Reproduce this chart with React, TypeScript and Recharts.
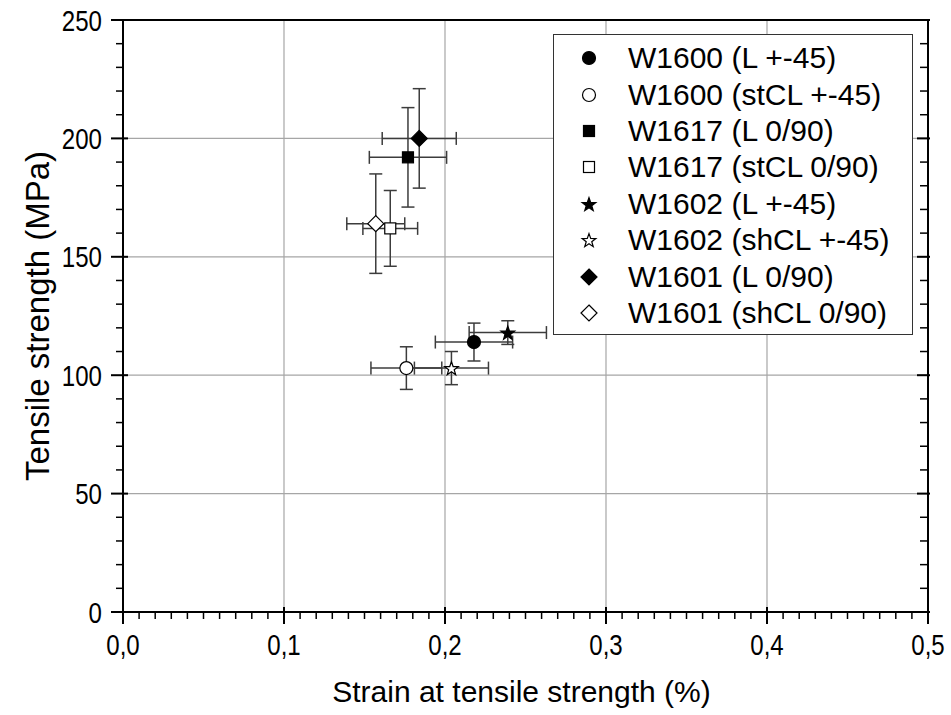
import React from 'react';
import { ScatterChart, Scatter, XAxis, YAxis, CartesianGrid, ErrorBar, Legend } from 'recharts';

// ---------- data ----------
const seriesNames = [
  'W1600 (L +-45)',
  'W1600 (stCL +-45)',
  'W1617 (L 0/90)',
  'W1617 (stCL 0/90)',
  'W1602 (L +-45)',
  'W1602 (shCL +-45)',
  'W1601 (L 0/90)',
  'W1601 (shCL 0/90)',
];
const seriesShapes = ['circle', 'circle', 'square', 'square', 'star', 'star', 'diamond', 'diamond'];
const seriesFilled = [true, false, true, false, true, false, true, false];
const strainValues = [0.218, 0.176, 0.177, 0.166, 0.239, 0.204, 0.184, 0.157];
const strainErrors = [0.024, 0.022, 0.024, 0.017, 0.024, 0.023, 0.023, 0.018];
const strengthValues = [114, 103, 192, 162, 118, 103, 200, 164];
const strengthErrors = [8, 9, 21, 16, 5, 7, 21, 21];

const xMajorTicks = [0, 0.1, 0.2, 0.3, 0.4, 0.5];
const xTickLabels = ['0,0', '0,1', '0,2', '0,3', '0,4', '0,5'];
const yMajorTicks = [0, 50, 100, 150, 200, 250];
const yTickLabels = ['0', '50', '100', '150', '200', '250'];
const xMinorStep = 0.01;
const yMinorStep = 10;

const xAllTicks: number[] = [];
for (let i = 0; i <= Math.round(0.5 / xMinorStep); i++) xAllTicks.push(Math.round(i * xMinorStep * 1000) / 1000);
const yAllTicks: number[] = [];
for (let i = 0; i <= Math.round(250 / yMinorStep); i++) yAllTicks.push(i * yMinorStep);

const majorIndex = (arr: number[], v: number) => arr.findIndex((m) => Math.abs(m - v) < 1e-6);

const FONT = "'Liberation Sans', Arial, sans-serif";
const NARROW = 0.83;

// ---------- markers ----------
function starPoints(cx: number, cy: number, R: number, r: number) {
  const pts: string[] = [];
  for (let i = 0; i < 10; i++) {
    const rad = i % 2 === 0 ? R : r;
    const a = -Math.PI / 2 + (i * Math.PI) / 5;
    pts.push(`${cx + rad * Math.cos(a)},${cy + rad * Math.sin(a)}`);
  }
  return pts.join(' ');
}

function Marker({ kind, filled, cx, cy }: { kind: string; filled: boolean; cx: number; cy: number }) {
  const fill = filled ? '#000' : '#fff';
  const stroke = '#000';
  const sw = 1.2;
  if (kind === 'circle') return <circle cx={cx} cy={cy} r={6.5} fill={fill} stroke={stroke} strokeWidth={sw} />;
  if (kind === 'square')
    return <rect x={cx - 5.5} y={cy - 5.5} width={11} height={11} fill={fill} stroke={stroke} strokeWidth={sw} />;
  if (kind === 'diamond')
    return (
      <polygon
        points={`${cx},${cy - 8} ${cx + 8},${cy} ${cx},${cy + 8} ${cx - 8},${cy}`}
        fill={fill}
        stroke={stroke}
        strokeWidth={sw}
      />
    );
  return <polygon points={starPoints(cx, cy + 0.8, 7.2, 2.9)} fill={fill} stroke={stroke} strokeWidth={sw} />;
}

// narrow tick label text
const NarrowText = ({ x, y, anchor, children }: any) => (
  <text
    transform={`translate(${x}, ${y}) scale(${NARROW}, 1)`}
    textAnchor={anchor}
    fontSize={29}
    fontFamily={FONT}
    fill="#000"
  >
    {children}
  </text>
);

// ---------- ticks ----------
const XBottomTick = (props: any) => {
  const { x, y, payload } = props;
  const idx = majorIndex(xMajorTicks, payload.value);
  const major = idx >= 0;
  return (
    <g>
      <line x1={x} x2={x} y1={major ? y - 5 : y} y2={y + (major ? 12 : 7)} stroke="#000" strokeWidth={major ? 2 : 1.5} />
      {major && (
        <NarrowText x={x} y={y + 43} anchor="middle">
          {xTickLabels[idx]}
        </NarrowText>
      )}
    </g>
  );
};

const XTopTick = (props: any) => {
  const { x, y, payload } = props;
  const major = majorIndex(xMajorTicks, payload.value) >= 0;
  return <line x1={x} x2={x} y1={y - (major ? 2 : 0)} y2={y + (major ? 11 : 7)} stroke="#000" strokeWidth={major ? 2 : 1.5} />;
};

const YLeftTick = (props: any) => {
  const { x, y, payload } = props;
  const idx = majorIndex(yMajorTicks, payload.value);
  const major = idx >= 0;
  return (
    <g>
      <line x1={x - (major ? 12 : 7)} x2={major ? x + 5 : x} y1={y} y2={y} stroke="#000" strokeWidth={major ? 2 : 1.5} />
      {major && (
        <NarrowText x={x - 21} y={y + 10.5} anchor="end">
          {yTickLabels[idx]}
        </NarrowText>
      )}
    </g>
  );
};

const YRightTick = (props: any) => {
  const { x, y, payload } = props;
  const major = majorIndex(yMajorTicks, payload.value) >= 0;
  return <line x1={x + (major ? 2 : 0)} x2={x - (major ? 11 : 8)} y1={y} y2={y} stroke="#000" strokeWidth={major ? 2 : 1.5} />;
};

// ---------- titles ----------
const XTitle = (props: any) => {
  const vb = props.viewBox || {};
  const cx = vb.x + vb.width / 2 - 4;
  return (
    <text x={cx} y={vb.y + 90} textAnchor="middle" fontSize={30} fontFamily={FONT} fill="#000">
      Strain at tensile strength (%)
    </text>
  );
};

const YTitle = (props: any) => {
  const vb = props.viewBox || {};
  const cx = vb.x + 37;
  const cy = vb.y + vb.height / 2;
  return (
    <text
      x={cx}
      y={cy}
      dy="0.36em"
      transform={`rotate(-90, ${cx}, ${cy})`}
      textAnchor="middle"
      fontSize={33}
      fontFamily={FONT}
      fill="#000"
    >
      Tensile strength (MPa)
    </text>
  );
};

// ---------- legend ----------
const LegendBox = (props: any) => {
  const payload = [...(props.payload || [])].sort(
    (a: any, b: any) => seriesNames.indexOf(a.value) - seriesNames.indexOf(b.value)
  );
  return (
    <div
      style={{
        width: 360,
        height: 301,
        border: '1.5px solid #333',
        boxSizing: 'border-box',
        background: '#fff',
        paddingTop: 5,
        fontFamily: FONT,
      }}
    >
      {payload.map((entry: any) => {
        const i = seriesNames.indexOf(entry.value);
        return (
          <div key={entry.value} style={{ display: 'flex', alignItems: 'center', height: 36.4 }}>
            <svg width={72} height={36} style={{ flex: 'none' }}>
              <Marker kind={seriesShapes[i]} filled={seriesFilled[i]} cx={35} cy={18} />
            </svg>
            <span style={{ marginLeft: 2, fontSize: 30, color: '#000', whiteSpace: 'nowrap', lineHeight: '36px' }}>
              {entry.value}
            </span>
          </div>
        );
      })}
    </div>
  );
};

const seriesData = seriesNames.map((name, i) => ({
  name,
  points: [{ x: strainValues[i], y: strengthValues[i], ex: strainErrors[i], ey: strengthErrors[i] }],
}));

export default function App() {
  return (
    <div style={{ position: 'absolute', left: 0, top: 0, width: 951, height: 715, background: '#fff' }}>
      <ScatterChart width={951} height={715} margin={{ top: 19, right: 22, bottom: 0, left: 0 }}>
        <CartesianGrid
          xAxisId="bottom"
          yAxisId="left"
          verticalValues={[0.1, 0.2, 0.3, 0.4]}
          horizontalValues={[50, 100, 150, 200]}
          stroke="#a6a6a6"
          strokeWidth={1.2}
        />
        <XAxis
          xAxisId="bottom"
          dataKey="x"
          type="number"
          domain={[0, 0.5]}
          ticks={xAllTicks}
          interval={0}
          tick={<XBottomTick />}
          tickLine={false}
          tickSize={0}
          tickMargin={0}
          axisLine={{ stroke: '#000', strokeWidth: 2 }}
          height={103}
          label={<XTitle />}
          allowDataOverflow
        />
        <XAxis
          xAxisId="top"
          orientation="top"
          type="number"
          domain={[0, 0.5]}
          ticks={xAllTicks}
          interval={0}
          tick={<XTopTick />}
          tickLine={false}
          tickSize={0}
          tickMargin={0}
          axisLine={{ stroke: '#000', strokeWidth: 2 }}
          height={1}
          allowDataOverflow
        />
        <YAxis
          yAxisId="left"
          dataKey="y"
          type="number"
          domain={[0, 250]}
          ticks={yAllTicks}
          interval={0}
          tick={<YLeftTick />}
          tickLine={false}
          tickSize={0}
          tickMargin={0}
          axisLine={{ stroke: '#000', strokeWidth: 2 }}
          width={123}
          label={<YTitle />}
          allowDataOverflow
        />
        <YAxis
          yAxisId="right"
          orientation="right"
          type="number"
          domain={[0, 250]}
          ticks={yAllTicks}
          interval={0}
          tick={<YRightTick />}
          tickLine={false}
          tickSize={0}
          tickMargin={0}
          axisLine={{ stroke: '#000', strokeWidth: 2 }}
          width={1}
          allowDataOverflow
        />
        <Legend
          layout="vertical"
          align="center"
          verticalAlign="middle"
          content={<LegendBox />}
          wrapperStyle={{ position: 'absolute', left: 553, top: 34, width: 360, height: 301 }}
        />
        {seriesData.map((s, i) => (
          <Scatter
            key={s.name}
            name={s.name}
            data={s.points}
            xAxisId="bottom"
            yAxisId="left"
            fill="#000"
            isAnimationActive={false}
            shape={(p: any) => <Marker kind={seriesShapes[i]} filled={seriesFilled[i]} cx={p.cx} cy={p.cy} />}
          >
            <ErrorBar dataKey="ey" direction="y" width={6.5} stroke="#3c3c3c" strokeWidth={1.5} isAnimationActive={false} />
            <ErrorBar dataKey="ex" direction="x" width={6.5} stroke="#3c3c3c" strokeWidth={1.5} isAnimationActive={false} />
          </Scatter>
        ))}
      </ScatterChart>
    </div>
  );
}
